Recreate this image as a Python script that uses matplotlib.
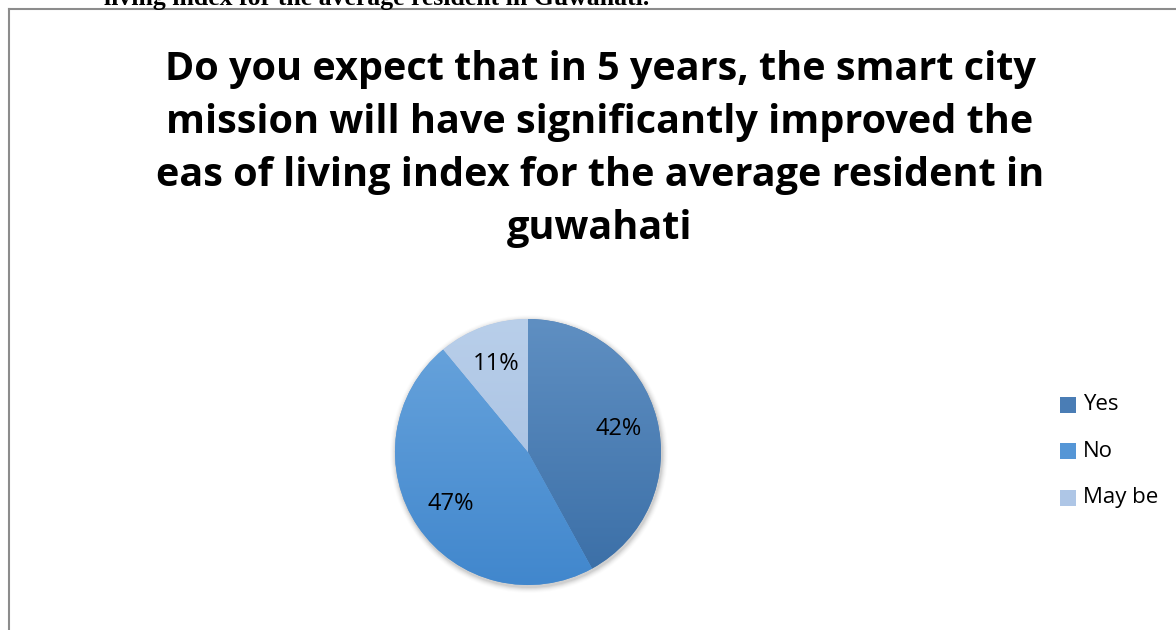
import numpy as np
import matplotlib.pyplot as plt
from matplotlib.colors import to_rgb
from matplotlib.patches import Rectangle

labels = ["Yes", "No", "May be"]
values = [42, 47, 11]
# top / bottom colour of each slice's vertical gradient
grad_top = ["#5f8fc2", "#6aa5dd", "#b9cfea"]
grad_bot = ["#3a6ea6", "#4187cd", "#9fbadf"]
solid = ["#4a7db5", "#5596d6", "#aec6e6"]

title = ("Do you expect that in 5 years, the smart city\n"
         "mission will have significantly improved the\n"
         "eas of living index for the average resident in\n"
         "guwahati")
caption = "living index for the average resident in Guwahati."

W, H = 1176, 630
fig = plt.figure(figsize=(W / 100, H / 100), dpi=100)
ax = fig.add_axes([0, 0, 1, 1])

cx, cy, r = 528, H - 452, 133

# soft shadow under the pie
for i, a in enumerate(np.linspace(0.05, 0.012, 6)):
    sh = plt.Circle((cx + 1, cy - 2), r + 1 + i, color="#000000", alpha=a,
                    lw=0, zorder=0)
    ax.add_patch(sh)

wedges, texts, autotexts = ax.pie(
    values, colors=solid, startangle=90, counterclock=False,
    center=(cx, cy), radius=r, autopct="%.0f%%", pctdistance=0.7,
    wedgeprops=dict(linewidth=0),
    textprops=dict(fontsize=17, family="Open Sans", color="black"))

for w, c0, c1 in zip(wedges, grad_top, grad_bot):
    g = np.linspace(0, 1, 256)[:, None, None]
    img = np.array(to_rgb(c0)) * (1 - g) + np.array(to_rgb(c1)) * g
    img = np.repeat(img, 2, axis=1)
    im = ax.imshow(img, extent=(cx - r, cx + r, cy - r, cy + r),
                   origin="upper", zorder=1.5, interpolation="bilinear")
    im.set_clip_path(w)

for t in autotexts:
    t.set_zorder(3)

ax.set_xlim(0, W)
ax.set_ylim(0, H)
ax.set_aspect("equal")
ax.axis("off")

# chart border (only left and top edges fall inside the page)
ax.plot([8.5, 8.5], [0, H - 8.5], color="#8c8c8c", lw=1.5, zorder=4)
ax.plot([8.5, W], [H - 8.5, H - 8.5], color="#8c8c8c", lw=1.5, zorder=4)

ax.text(104, H - 4.5, caption, family="Liberation Serif", fontweight="bold",
        fontsize=18.5, ha="left", va="baseline", zorder=4)

ax.text(600, H - 149, title, family="Open Sans", fontweight="bold",
        fontsize=28.5, ha="center", va="center", linespacing=1.47)

# legend
for i, (lab, c) in enumerate(zip(labels, solid)):
    y = H - (405 + 46.5 * i)
    ax.add_patch(Rectangle((1060, y - 7.5), 16, 16, color=c, lw=0))
    ax.text(1083, y, lab, family="Open Sans", fontsize=16, va="center",
            ha="left")

fig.savefig("out.png", dpi=100)
